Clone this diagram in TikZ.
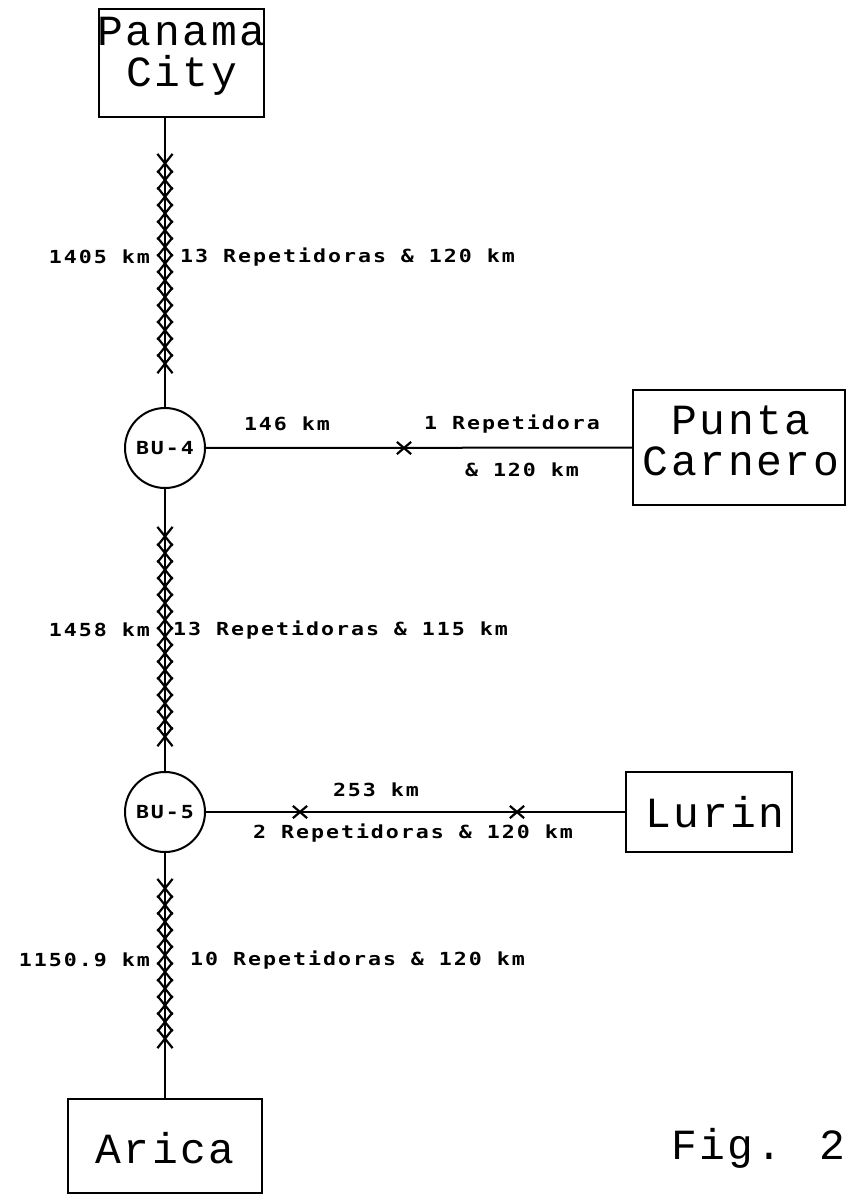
\documentclass[tikz,border=0pt]{standalone}
\usepackage{fontspec}
\usetikzlibrary{positioning, shapes.misc}
\newfontfamily\plotfont[FakeStretch=1.2, LetterSpace=11]{DejaVu Sans Mono}
\newfontfamily\sitefont[LetterSpace=6]{Liberation Mono}

\begin{document}
\begin{tikzpicture}[x=1pt, y=-1pt,
  site/.style={draw, line width=1.8pt, inner sep=0pt},
  sitetext/.style={font=\sitefont\fontsize{43}{41}\selectfont, align=center, inner sep=0pt},
  unit/.style={draw, circle, line width=2pt, minimum size=80pt, inner sep=0pt,
    font=\plotfont\bfseries\fontsize{18}{18}\selectfont},
  lbl/.style={font=\plotfont\bfseries\fontsize{18}{18}\selectfont, inner sep=0pt},
  rep/.style={cross out, draw, line width=2.2pt, inner sep=0pt,
    minimum width=13pt, minimum height=16.7pt},
  hrep/.style={rep, minimum width=12pt, minimum height=10pt},
  link/.style={line width=2pt}]
  \useasboundingbox (0,0) rectangle (846,1195);
  % sites
  \node[site, minimum width=165pt, minimum height=108pt] (panama) at (181.5,63) {};
  \node[sitetext] (panamatxt) at (181.5,56) {Panama\\City};
  \node[site, minimum width=212pt, minimum height=115pt] (punta) at (739,447.5) {};
  \node[sitetext] (puntatxt) at (741,441) {Punta\\Carnero};
  \node[site, minimum width=166pt, minimum height=80pt] (lurin) at (709,812) {};
  \node[sitetext] (lurintxt) at (715,812) {Lurin};
  \node[site, minimum width=194pt, minimum height=94pt] (arica) at (165,1146) {};
  \node[sitetext] (aricatxt) at (165,1148) {Arica};
  % branching units
  \node[unit] (bu4) at (165,448) {BU-4};
  \node[unit] (bu5) at (165,812) {BU-5};
  % cable links
  \draw[link] (bu4) -- (bu4 |- panama.south);
  \draw[link] (bu4) -- (bu5);
  \draw[link] (bu5) -- (arica);
  \draw[link] (bu4) -- (punta);
  \draw[link] (bu5) -- (lurin);
  % repeaters
  \foreach \i in {0,...,12} \node[rep] (ra\i) at (165,{155+16.7*(\i+0.5)}) {};
  \foreach \i in {0,...,12} \node[rep] (rb\i) at (165,{528+16.7*(\i+0.5)}) {};
  \foreach \i in {0,...,9} \node[rep] (rc\i) at (165,{880+16.7*(\i+0.5)}) {};
  \node[hrep] (rd) at (404,448) {};
  \node[hrep] (re1) at (300,812) {};
  \node[hrep] (re2) at (517,812) {};
  % labels
  \node[lbl, anchor=east] (len1) at (150,257) {1405 km};
  \node[lbl, anchor=west] (rep1) at (180,257) {13 Repetidoras \& 120 km};
  \node[lbl] (len4) at (287,424) {146 km};
  \node[lbl] (rep4) at (512,424) {1 Repetidora};
  \node[lbl] (rep4b) at (522,470) {\& 120 km};
  \node[lbl, anchor=east] (len2) at (150,630) {1458 km};
  \node[lbl, anchor=west] (rep2) at (173,630) {13 Repetidoras \& 115 km};
  \node[lbl] (len5) at (376,790) {253 km};
  \node[lbl] (rep5) at (413,833) {2 Repetidoras \& 120 km};
  \node[lbl, anchor=east] (len3) at (150,960) {1150.9 km};
  \node[lbl, anchor=west] (rep3) at (190,960) {10 Repetidoras \& 120 km};
  \node[sitetext, anchor=east] (fig) at (846,1148) {Fig. 2};
\end{tikzpicture}
\end{document}
